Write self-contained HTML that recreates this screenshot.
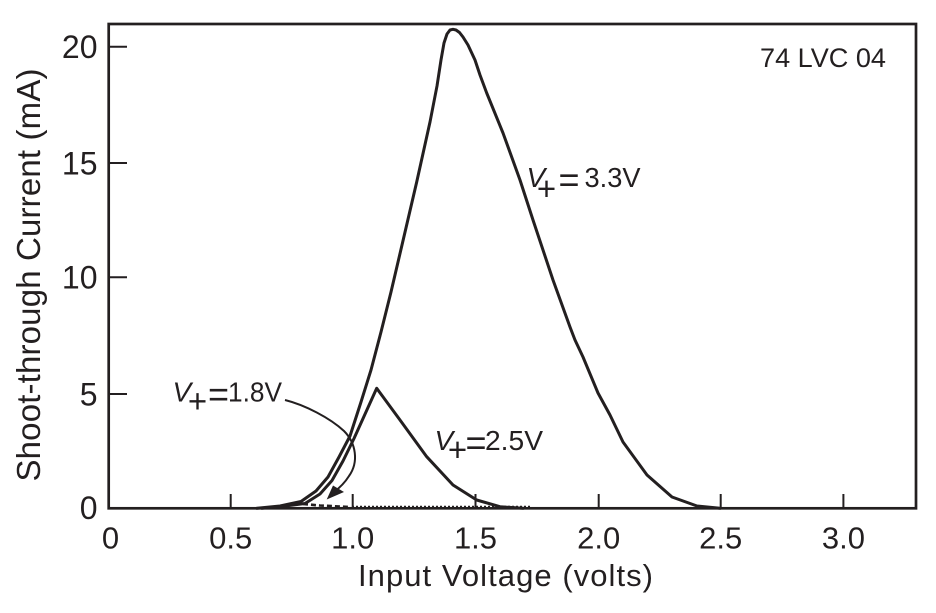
<!DOCTYPE html>
<html>
<head>
<meta charset="utf-8">
<style>
  html, body { margin:0; padding:0; background:#fff; }
  svg { display:block; }
  text { font-family: "Liberation Sans", Arial, sans-serif; fill:#231f20; }
</style>
</head>
<body>
<svg width="936" height="613" viewBox="0 0 936 613" xmlns="http://www.w3.org/2000/svg">
  <!-- frame -->
  <rect x="108.7" y="24" width="807.3" height="484.3" fill="none" stroke="#231f20" stroke-width="2.7"/>

  <!-- y ticks -->
  <g stroke="#231f20" stroke-width="2">
    <line x1="109" y1="46.7" x2="127" y2="46.7"/>
    <line x1="109" y1="163" x2="127" y2="163"/>
    <line x1="109" y1="277.3" x2="127" y2="277.3"/>
    <line x1="109" y1="394" x2="127" y2="394"/>
  </g>
  <!-- x ticks -->
  <g stroke="#231f20" stroke-width="2">
    <line x1="230.7" y1="494" x2="230.7" y2="508"/>
    <line x1="352.7" y1="494" x2="352.7" y2="508"/>
    <line x1="475.5" y1="494" x2="475.5" y2="508"/>
    <line x1="598.7" y1="494" x2="598.7" y2="508"/>
    <line x1="720.7" y1="494" x2="720.7" y2="508"/>
    <line x1="843.4" y1="494" x2="843.4" y2="508"/>
  </g>

  <!-- y tick labels -->
  <g font-size="32" text-anchor="end">
    <text x="97.5" y="58">20</text>
    <text x="97.5" y="174.3">15</text>
    <text x="97.5" y="288.6">10</text>
    <text x="97.5" y="405.3">5</text>
    <text x="97.5" y="518.8">0</text>
  </g>
  <!-- x tick labels -->
  <g font-size="31" text-anchor="middle">
    <text x="110.5" y="548.5">0</text>
    <text x="230.7" y="548.5">0.5</text>
    <text x="352.7" y="548.5">1.0</text>
    <text x="475.5" y="548.5">1.5</text>
    <text x="598.7" y="548.5">2.0</text>
    <text x="720.7" y="548.5">2.5</text>
    <text x="843.4" y="548.5">3.0</text>
  </g>

  <!-- axis titles -->
  <text x="505.5" y="586" font-size="31" text-anchor="middle" textLength="295" lengthAdjust="spacing">Input Voltage (volts)</text>
  <text transform="translate(40,275) rotate(-90)" font-size="33" text-anchor="middle" textLength="413" lengthAdjust="spacing">Shoot-through Current (mA)</text>

  <!-- part number -->
  <text x="760" y="67" font-size="27" textLength="126" lengthAdjust="spacingAndGlyphs">74 LVC 04</text>

  <!-- 1.8V dotted -->
  <polyline points="303,504 320,505.5 350,507" fill="none" stroke="#231f20" stroke-width="2.6" stroke-dasharray="5,3"/>
  <line x1="352" y1="506.6" x2="532" y2="506.6" stroke="#231f20" stroke-width="1.6" stroke-dasharray="2,2"/>

  <!-- 2.5V curve -->
  <polyline fill="none" stroke="#231f20" stroke-width="3" stroke-linejoin="round" stroke-linecap="round"
    points="262,508.3 285,506 305,503.5 320,494 332,480.5 343,461 354,438.5 376.7,388.3 400,420 426.7,456.7 453,485 476.7,500 500,506.7 523,508.3"/>

  <!-- 3.3V curve -->
  <polyline fill="none" stroke="#231f20" stroke-width="3" stroke-linejoin="round" stroke-linecap="round"
    points="257,508.3 280,506 301,501.5 316,491 328,477 339,457 350,436 361,402 371,370 381,332 391,292 402,245 416.7,182 430,122 437,86 441,60 444,43 447,34 450,30 453,29.3 456,30 459.5,32.5 463,37 468,45 475,60 480,75 486.7,93 503,133 520,180 533,220 553,280 570,327 575,340 583,357 598,393 610,415 623,442 647,475 672,497 697,506 720,508.3"/>

  <!-- arrow for 1.8V -->
  <path d="M285,400 C305,405 330,418 344,431 C356,443 359,462 349,476 C344,484 338,489 334,492" fill="none" stroke="#231f20" stroke-width="2"/>
  <polygon points="326.7,499.5 333,485.5 344,492" fill="#231f20"/>

  <!-- labels V+ = ... -->
  <!-- 3.3V -->
  <text x="526.5" y="187" font-size="28" font-style="italic">V</text>
  <text x="546.5" y="200" font-size="33" text-anchor="middle">+</text>
  <text x="569" y="192" font-size="36" text-anchor="middle">=</text>
  <text x="584.5" y="187" font-size="28" textLength="56" lengthAdjust="spacingAndGlyphs">3.3V</text>

  <!-- 2.5V -->
  <text x="434.5" y="450" font-size="28" font-style="italic">V</text>
  <text x="457.5" y="461" font-size="33" text-anchor="middle">+</text>
  <text x="476" y="455" font-size="36" text-anchor="middle">=</text>
  <text x="485" y="450" font-size="28" textLength="58" lengthAdjust="spacingAndGlyphs">2.5V</text>

  <!-- 1.8V -->
  <text x="172.5" y="401.7" font-size="28" font-style="italic">V</text>
  <text x="197.5" y="412.5" font-size="33" text-anchor="middle">+</text>
  <text x="218.5" y="406.7" font-size="36" text-anchor="middle">=</text>
  <text x="228" y="401.7" font-size="28" textLength="54" lengthAdjust="spacingAndGlyphs">1.8V</text>
</svg>
</body>
</html>
